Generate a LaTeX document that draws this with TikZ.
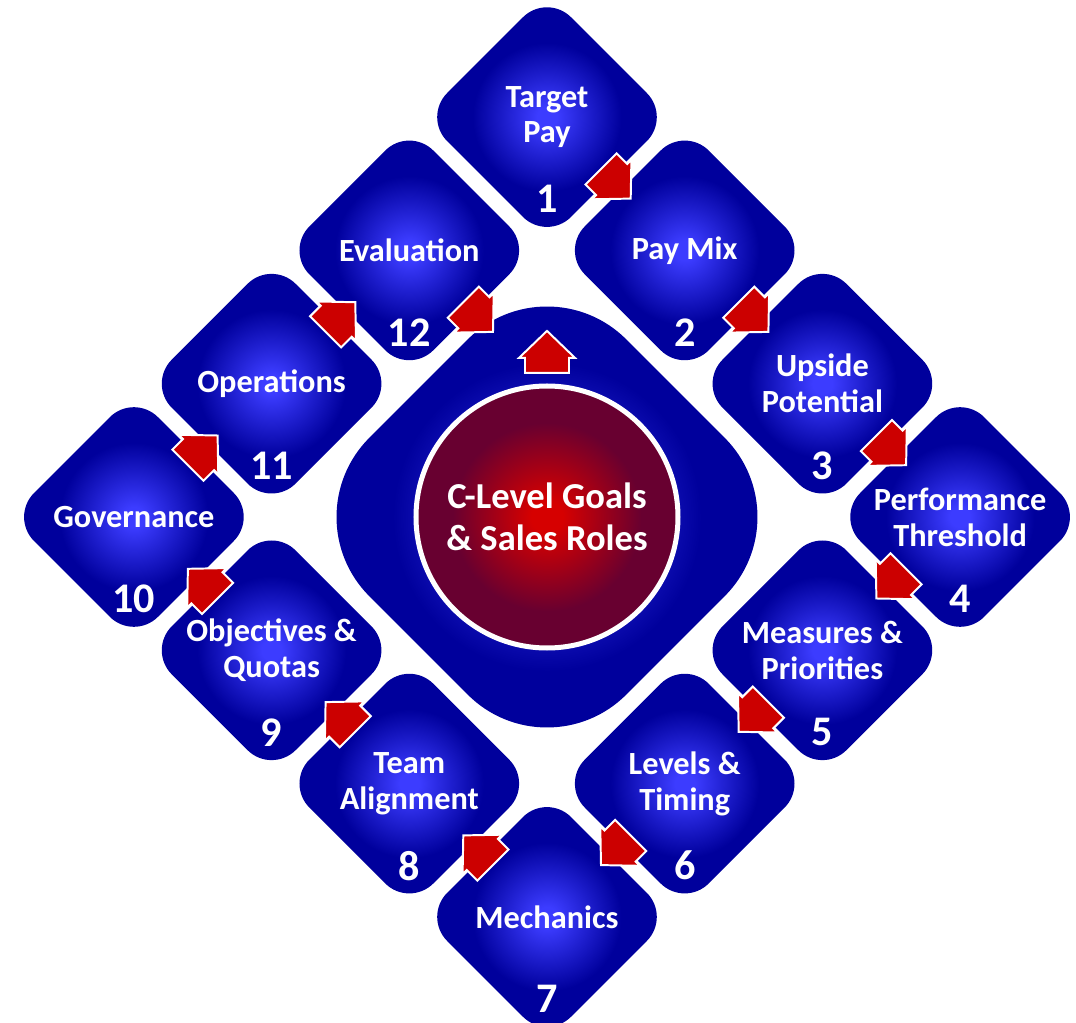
\documentclass[tikz,border=0pt]{standalone}
\usepackage{fontspec}
\setmainfont{Carlito}
\usetikzlibrary{shapes.geometric,calc}

\definecolor{bluehi}{RGB}{60,60,255}
\definecolor{bluelo}{RGB}{0,0,156}
\definecolor{redhi}{RGB}{214,0,0}
\definecolor{redlo}{RGB}{104,0,48}
\definecolor{arrowred}{RGB}{204,0,0}

\pgfdeclareradialshading{bluespot}{\pgfpoint{0bp}{0bp}}{color(0bp)=(bluehi); color(2bp)=(bluehi); color(15bp)=(bluelo); color(50bp)=(bluelo)}
\pgfdeclareradialshading{redspot}{\pgfpoint{0bp}{0bp}}{color(0bp)=(redhi); color(3bp)=(redhi); color(18bp)=(redlo); color(50bp)=(redlo)}

\begin{document}
\begin{tikzpicture}[x=3.4425cm,y=3.3325cm]
    \tikzset{
        ringbox/.style={diamond,shade,shading=bluespot,minimum size=6.2cm,inner sep=0pt,rounded corners=0.85cm},
        corebox/.style={diamond,shade,shading=bluespot,minimum size=12.85cm,inner sep=0pt,rounded corners=2.8cm},
        disc/.style={circle,shade,shading=redspot,draw=white,line width=0.125cm,minimum size=6.55cm,inner sep=0pt,
            text=white,align=center,font=\bfseries\fontsize{26}{30}\selectfont},
        ringtext/.style={text=white,align=center,font=\bfseries\fontsize{23}{25.5}\selectfont},
        ringnum/.style={text=white,font=\bfseries\fontsize{30}{32}\selectfont},
        flowarrow/.pic={
            \fill[arrowred,draw=white,line width=1.4pt]
                (-0.525cm,-0.55cm) -- (-0.15cm,-0.55cm) -- (-0.15cm,-0.7cm) -- (0.525cm,0cm)
                -- (-0.15cm,0.7cm) -- (-0.15cm,0.55cm) -- (-0.525cm,0.55cm) -- cycle;
        }
    }

    \useasboundingbox (-13.675cm,-12.65cm) rectangle (13.225cm,12.925cm);

    % ring of steps
    \foreach \n/\p/\q in {1/0/3,2/1/2,3/2/1,4/3/0,5/2/-1,6/1/-2,7/0/-3,8/-1/-2,9/-2/-1,10/-3/0,11/-2/1,12/-1/2} {
        \node[ringbox] (d\n) at (\p,\q) {};
    }

    \node[corebox] (core) at (0,0) {};
    \node[disc] (disc) at (core) {C-Level Goals\\\& Sales Roles};

    % arrows between steps
    \foreach \a/\b/\ang in {1/2/-45,2/3/-45,3/4/-45,4/5/-135,5/6/-135,6/7/-135,7/8/135,8/9/135,9/10/135,10/11/45,11/12/45} {
        \pic[rotate=\ang] at ($(d\a)!0.5!(d\b)$) {flowarrow};
    }
    \pic[rotate=-45] at ($(d12)+(0.5,-0.5)$) {flowarrow};
    \pic[rotate=90] at ([yshift=0.79cm]disc.north) {flowarrow};

    \foreach \n/\txt in {1/{Target\\Pay},2/{Pay Mix},3/{Upside\\Potential},4/{Performance\\Threshold},
        5/{Measures \&\\Priorities},6/{Levels \&\\Timing},7/{Mechanics},8/{Team\\Alignment},
        9/{Objectives \&\\Quotas},10/{Governance},11/{Operations},12/{Evaluation}} {
        \node[ringtext] (t\n) at (d\n) {\txt};
        \node[ringnum] (n\n) at ([yshift=-2.05cm]d\n.center) {\n};
    }
\end{tikzpicture}
\end{document}
